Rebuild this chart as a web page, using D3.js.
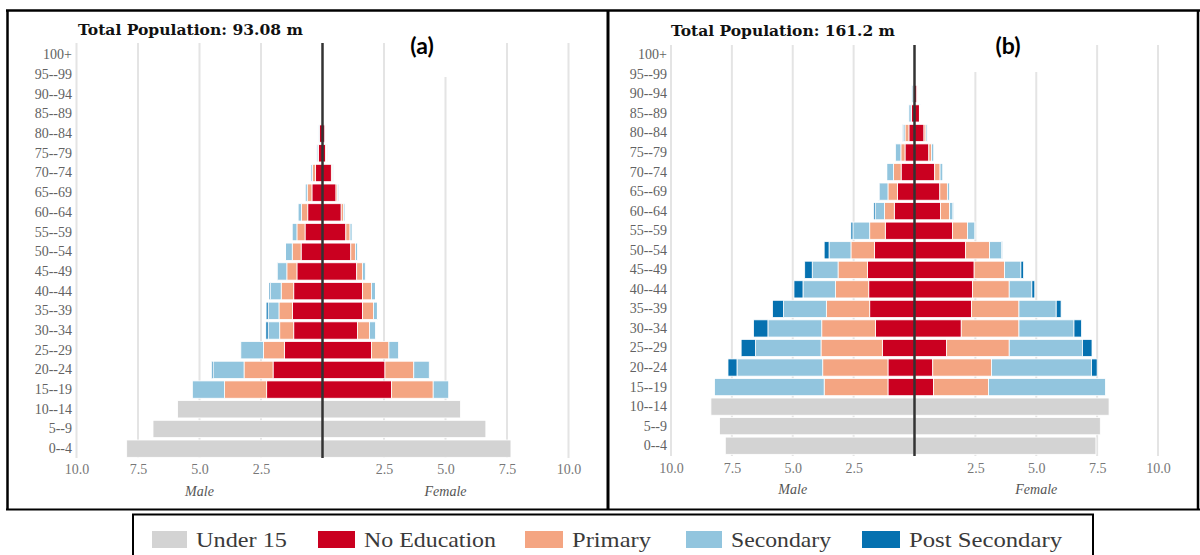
<!DOCTYPE html>
<html>
<head>
<meta charset="utf-8">
<script src="https://cdn.jsdelivr.net/npm/d3@7"></script>
<style>
  body { margin: 0; background: #fff; }
  svg { display: block; }
</style>
</head>
<body>
<svg id="chart" width="1200" height="555"></svg>
<script>
// Age groups, youngest first
const ageGroups = ["0--4","5--9","10--14","15--19","20--24","25--29","30--34","35--39","40--44",
  "45--49","50--54","55--59","60--64","65--69","70--74","75--79","80--84","85--89","90--94","95--99","100+"];
const childAges = ageGroups.slice(0, 3);      // shown as "Under 15"
const adultAges = ageGroups.slice(3);         // split by education level

const levelKeys = ["under15", "noEdu", "primary", "secondary", "post"];
const levelNames = ["Under 15", "No Education", "Primary", "Secondary", "Post Secondary"];
const levelColors = ["#d3d3d3", "#ca0020", "#f4a582", "#92c5de", "#0571b0"];
const tickValues = [2.5, 5, 7.5, 10];

// ---- Panel (a): population in millions ----
const aTitle = "Total Population: 93.08 m";
const aMaleUnder15   = [7.96, 6.89, 5.89];
const aFemaleUnder15 = [7.66, 6.64, 5.61];
const aMaleNoEdu     = [2.27, 2.01, 1.55, 1.17, 1.22, 1.17, 1.04, 0.87, 0.71, 0.60, 0.43, 0.28, 0.16, 0.13, 0.02, 0.01, 0, 0];
const aMalePrimary   = [1.71, 1.18, 0.85, 0.57, 0.55, 0.51, 0.41, 0.36, 0.33, 0.25, 0.19, 0.13, 0.03, 0, 0, 0, 0, 0];
const aMaleSecondary = [1.31, 1.26, 0.92, 0.47, 0.44, 0.43, 0.38, 0.27, 0.19, 0.14, 0.08, 0.06, 0.05, 0.02, 0, 0, 0, 0];
const aMalePost      = [0, 0.05, 0, 0.09, 0.08, 0.06, 0.02, 0.01, 0, 0, 0, 0, 0, 0, 0, 0, 0, 0];
const aFemaleNoEdu     = [2.81, 2.54, 1.99, 1.42, 1.63, 1.63, 1.39, 1.15, 0.95, 0.76, 0.55, 0.36, 0.13, 0.09, 0.02, 0.01, 0, 0];
const aFemalePrimary   = [1.69, 1.17, 0.71, 0.49, 0.44, 0.36, 0.24, 0.19, 0.17, 0.09, 0.06, 0.05, 0.03, 0, 0, 0, 0, 0];
const aFemaleSecondary = [0.63, 0.63, 0.39, 0.24, 0.16, 0.16, 0.11, 0.08, 0.08, 0.06, 0.05, 0.03, 0.03, 0, 0, 0, 0, 0];
const aFemalePost      = [0, 0, 0, 0, 0.02, 0.02, 0, 0, 0, 0, 0, 0, 0, 0, 0, 0, 0, 0];

// ---- Panel (b): population in millions ----
const bTitle = "Total Population: 161.2 m";
const bMaleUnder15   = [7.77, 8.01, 8.36];
const bFemaleUnder15 = [7.45, 7.63, 7.99];
const bMaleNoEdu     = [1.09, 1.09, 1.32, 1.60, 1.84, 1.88, 1.93, 1.64, 1.20, 0.83, 0.70, 0.55, 0.39, 0.23, 0.12, 0.05, 0, 0];
const bMalePrimary   = [2.62, 2.68, 2.52, 2.21, 1.78, 1.36, 1.21, 0.97, 0.64, 0.40, 0.39, 0.31, 0.17, 0.16, 0.02, 0.01, 0, 0];
const bMaleSecondary = [4.50, 3.52, 2.69, 2.21, 1.76, 1.34, 1.06, 0.90, 0.69, 0.39, 0.36, 0.28, 0.22, 0.08, 0.09, 0.05, 0, 0];
const bMalePost      = [0, 0.37, 0.59, 0.59, 0.45, 0.37, 0.31, 0.20, 0.08, 0.06, 0.03, 0.02, 0.01, 0.01, 0, 0, 0, 0];
const bFemaleNoEdu     = [0.78, 0.75, 1.32, 1.92, 2.34, 2.38, 2.45, 2.10, 1.56, 1.07, 1.04, 0.83, 0.59, 0.39, 0.20, 0.10, 0, 0];
const bFemalePrimary   = [2.26, 2.41, 2.57, 2.37, 1.95, 1.51, 1.25, 0.98, 0.62, 0.37, 0.31, 0.22, 0.11, 0.08, 0.03, 0.01, 0, 0];
const bFemaleSecondary = [4.80, 4.11, 3.01, 2.26, 1.53, 0.93, 0.67, 0.50, 0.30, 0.14, 0.09, 0.11, 0.09, 0.05, 0.03, 0.01, 0, 0];
const bFemalePost      = [0, 0.23, 0.39, 0.31, 0.20, 0.12, 0.11, 0.03, 0.01, 0.01, 0, 0, 0, 0, 0, 0, 0, 0];

// Combine per-level arrays into one row per age group
function buildRows(under15, noEdu, primary, secondary, post) {
  return ageGroups.map(age => {
    const c = childAges.indexOf(age);
    const j = adultAges.indexOf(age);
    return {
      age,
      under15: c >= 0 ? under15[c] : 0,
      noEdu: j >= 0 ? noEdu[j] : 0,
      primary: j >= 0 ? primary[j] : 0,
      secondary: j >= 0 ? secondary[j] : 0,
      post: j >= 0 ? post[j] : 0
    };
  });
}

const svg = d3.select("#chart");
const serif = "'Liberation Serif', 'Times New Roman', serif";

function drawPanel(p) {
  const g = svg.append("g");
  const xM = d3.scaleLinear().domain([0, 10]).range([p.center, p.center - 10 * p.unit]);
  const xF = d3.scaleLinear().domain([0, 10]).range([p.center, p.center + 10 * p.unit]);
  const y = d3.scaleBand().domain(ageGroups.slice().reverse())
    .range([p.top, p.bottom]).paddingInner(0.12).paddingOuter(0.06);

  // vertical gridlines
  const grid = g.append("g");
  [xM, xF].forEach(sc => {
    grid.selectAll(null).data(tickValues).join("line")
      .attr("x1", d => sc(d)).attr("x2", d => sc(d))
      .attr("y1", p.gridTop).attr("y2", p.gridBottom)
      .attr("stroke", "#e4e4e4").attr("stroke-width", 2);
  });

  // panel tag with its white backing
  g.append("rect").attr("x", p.tagBox[0]).attr("y", p.tagBox[1])
    .attr("width", p.tagBox[2]).attr("height", p.tagBox[3]).attr("fill", "#fff");
  g.append("text").attr("x", p.tagX).attr("y", p.tagY)
    .attr("text-anchor", "middle")
    .style("font-family", "Lato, 'Open Sans', sans-serif").style("font-weight", "bold")
    .style("font-size", "23px").attr("fill", "#000").text(p.tag);

  // stacked bars, one side per sex
  const stack = d3.stack().keys(levelKeys);
  const sides = [
    { scale: xM, rows: p.male, male: true },
    { scale: xF, rows: p.female, male: false }
  ];
  sides.forEach(side => {
    const series = stack(side.rows);
    series.forEach((s, k) => {
      g.append("g").attr("fill", levelColors[k])
        .selectAll("rect")
        .data(s.filter(d => d[1] - d[0] > 0))
        .join("rect")
        .attr("x", d => side.male ? side.scale(d[1]) : side.scale(d[0]))
        .attr("width", d => Math.abs(side.scale(d[1]) - side.scale(d[0])))
        .attr("y", d => y(d.data.age))
        .attr("height", y.bandwidth())
        .attr("stroke", "#fff").attr("stroke-width", 0.8);
    });
  });

  // centre axis line
  g.append("line")
    .attr("x1", xM(0)).attr("x2", xM(0))
    .attr("y1", p.gridTop).attr("y2", p.gridBottom)
    .attr("stroke", "#333").attr("stroke-width", 2.5);

  // age labels
  const yAxis = g.append("g").attr("transform", `translate(${p.labelRight},0)`)
    .call(d3.axisLeft(y).tickSize(0).tickPadding(0));
  yAxis.select(".domain").remove();
  yAxis.selectAll("text").style("font-family", serif).style("font-size", "14px").attr("fill", "#626262");

  // value axes
  [xM, xF].forEach(sc => {
    const ax = g.append("g").attr("transform", `translate(0,${p.tickY})`)
      .call(d3.axisBottom(sc).tickValues(tickValues).tickFormat(d3.format(".1f")).tickSize(0).tickPadding(3));
    ax.select(".domain").remove();
    ax.selectAll("text").style("font-family", serif).style("font-size", "14px").attr("fill", "#777");
  });

  // sex labels
  g.append("text").attr("x", xM(5)).attr("y", p.sexY).attr("text-anchor", "middle")
    .style("font-family", serif).style("font-style", "italic").style("font-size", "14px")
    .attr("fill", "#555").text("Male");
  g.append("text").attr("x", xF(5)).attr("y", p.sexY).attr("text-anchor", "middle")
    .style("font-family", serif).style("font-style", "italic").style("font-size", "14px")
    .attr("fill", "#555").text("Female");

  // title
  g.append("text").attr("x", p.titleX).attr("y", p.titleY)
    .attr("textLength", p.titleW).attr("lengthAdjust", "spacingAndGlyphs")
    .style("font-family", "'DejaVu Serif', serif").style("font-weight", "bold")
    .style("font-size", "15px").attr("fill", "#111").text(p.title);
}

drawPanel({
  tag: "(a)", title: aTitle,
  male: buildRows(aMaleUnder15, aMaleNoEdu, aMalePrimary, aMaleSecondary, aMalePost),
  female: buildRows(aFemaleUnder15, aFemaleNoEdu, aFemalePrimary, aFemaleSecondary, aFemalePost),
  center: 322.5, unit: 24.6, top: 45, bottom: 458.5, gridTop: 43, gridBottom: 458,
  labelRight: 72, tickY: 461, sexY: 496,
  titleX: 78, titleY: 35, titleW: 225,
  tagX: 422, tagY: 54, tagBox: [393, 28, 66, 49]
});

drawPanel({
  tag: "(b)", title: bTitle,
  male: buildRows(bMaleUnder15, bMaleNoEdu, bMalePrimary, bMaleSecondary, bMalePost),
  female: buildRows(bFemaleUnder15, bFemaleNoEdu, bFemalePrimary, bFemaleSecondary, bFemalePost),
  center: 914.5, unit: 24.35, top: 45, bottom: 455.5, gridTop: 45, gridBottom: 456,
  labelRight: 667, tickY: 460, sexY: 494,
  titleX: 671, titleY: 36, titleW: 224,
  tagX: 1008, tagY: 54, tagBox: [962, 28, 90, 44]
});

// panel frames
const frame = svg.append("g").attr("fill", "none").attr("stroke", "#000");
frame.append("line").attr("x1", 6).attr("x2", 1200).attr("y1", 10.5).attr("y2", 10.5).attr("stroke-width", 2.5);
frame.append("line").attr("x1", 7.5).attr("x2", 7.5).attr("y1", 10).attr("y2", 510).attr("stroke-width", 2.5);
frame.append("line").attr("x1", 608).attr("x2", 608).attr("y1", 10).attr("y2", 510).attr("stroke-width", 3);
frame.append("line").attr("x1", 1198).attr("x2", 1198).attr("y1", 10).attr("y2", 510).attr("stroke-width", 2.5);
frame.append("line").attr("x1", 6).attr("x2", 1200).attr("y1", 509.5).attr("y2", 509.5).attr("stroke-width", 2);

// legend
const legend = svg.append("g");
legend.append("rect").attr("x", 133).attr("y", 514.5).attr("width", 960).attr("height", 50)
  .attr("fill", "#fff").attr("stroke", "#000").attr("stroke-width", 2);
const legendX = [152, 318, 525, 686, 862];
const legendSwatchW = [35, 37, 38, 36, 38];
const legendTextW = [91, 132, 79, 100, 153];
const items = legend.selectAll("g.item").data(levelNames).join("g").attr("class", "item")
  .attr("transform", (d, i) => `translate(${legendX[i]},531)`);
items.append("rect").attr("width", (d, i) => legendSwatchW[i]).attr("height", 17)
  .attr("fill", (d, i) => levelColors[i]);
items.append("text").attr("x", (d, i) => legendSwatchW[i] + 9).attr("y", 15.5)
  .attr("textLength", (d, i) => legendTextW[i]).attr("lengthAdjust", "spacingAndGlyphs")
  .style("font-family", serif).style("font-size", "22px").attr("fill", "#3a3a3a").text(d => d);
</script>
</body>
</html>
